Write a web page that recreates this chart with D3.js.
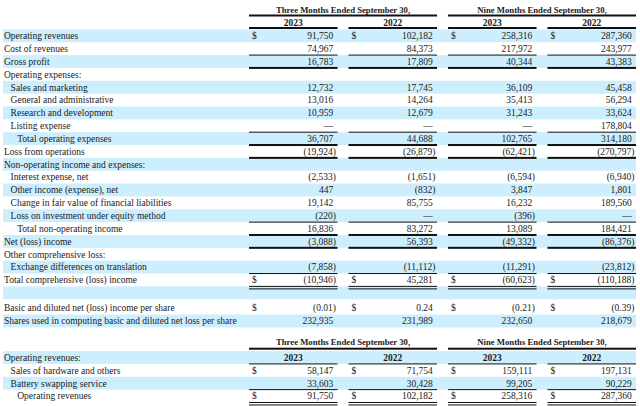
<!DOCTYPE html>
<html><head><meta charset="utf-8">
<script src="https://cdn.jsdelivr.net/npm/d3@7"></script>
<style>
html,body{margin:0;padding:0;background:#fff;}
svg text{font-family:"Liberation Serif","Times New Roman",serif;fill:#1a1a1a;}
</style></head>
<body><svg id="c" width="640" height="406"></svg>
<script>
// ---------- DATA ----------
const periodGroups = ["Three Months Ended September 30,", "Nine Months Ended September 30,"];
const columns = ["q3_2023", "q3_2022", "nine_2023", "nine_2022"];
const columnYears = ["2023", "2022", "2023", "2022"];

const labels = [
  "Operating revenues", "Cost of revenues", "Gross profit", "Operating expenses:",
  "Sales and marketing", "General and administrative", "Research and development", "Listing expense",
  "Total operating expenses", "Loss from operations", "Non-operating income and expenses:",
  "Interest expense, net", "Other income (expense), net", "Change in fair value of financial liabilities",
  "Loss on investment under equity method", "Total non-operating income", "Net (loss) income",
  "Other comprehensive loss:", "Exchange differences on translation", "Total comprehensive (loss) income",
  "", "Basic and diluted net (loss) income per share", "Shares used in computing basic and diluted net loss per share"
];
const levels = [0,0,0,0,1,1,1,1,2,0,0,1,1,1,1,2,0,0,1,0,0,0,0];
const q3_2023   = [91750, 74967, 16783, null, 12732, 13016, 10959, 0, 36707, -19924, null, -2533, 447, 19142, -220, 16836, -3088, null, -7858, -10946, null, -0.01, 232935];
const q3_2022   = [102182, 84373, 17809, null, 17745, 14264, 12679, 0, 44688, -26879, null, -1651, -832, 85755, 0, 83272, 56393, null, -11112, 45281, null, 0.24, 231989];
const nine_2023 = [258316, 217972, 40344, null, 36109, 35413, 31243, 0, 102765, -62421, null, -6594, 3847, 16232, -396, 13089, -49332, null, -11291, -60623, null, -0.21, 232650];
const nine_2022 = [287360, 243977, 43383, null, 45458, 56294, 33624, 178804, 314180, -270797, null, -6940, 1801, 189560, 0, 184421, -86376, null, -23812, -110188, null, -0.39, 218679];
const dollarRows = [0, 19, 21];
const perShareRows = [21];

const labels2 = ["Operating revenues:", "Sales of hardware and others", "Battery swapping service", "Operating revenues"];
const levels2 = [0, 1, 1, 2];
const seg_q3_2023   = [null, 58147, 33603, 91750];
const seg_q3_2022   = [null, 71754, 30428, 102182];
const seg_nine_2023 = [null, 159111, 99205, 258316];
const seg_nine_2022 = [null, 197131, 90229, 287360];
const dollarRows2 = [1, 3];

// ---------- RENDER ----------
const svg = d3.select("#c");
const HL = "#cdeefd";
const FS = 9.5;

const x = d3.scaleBand().domain(columns).range([249, 636]).paddingInner(0.11).paddingOuter(0);
const bw = x.bandwidth();
const rowH = 12.85;
const y1 = d3.scaleLinear().domain([0, 1]).range([35.8, 35.8 + rowH]);
const yRow = i => y1(i) + (i >= 21 ? 2.5 : 0);
const y2 = d3.scaleLinear().domain([0, 1]).range([357.5, 357.5 + rowH]);

const fInt = d3.format(",");
const fDec = d3.format(",.2f");

function fmtVal(v, dec) {
  if (v === null || v === undefined) return null;
  if (v === 0) return {t: "\u2014", neg: false, dash: true};
  const f = dec ? fDec : fInt;
  if (v < 0) return {t: "(" + f(-v) + ")", neg: true};
  return {t: f(v), neg: false};
}

function lineSeg(g, x0, x1, yy, type) {
  if (type === "thin") {
    g.append("rect").attr("x", x0).attr("y", yy - 0.5).attr("width", x1 - x0).attr("height", 1).attr("fill", "#111");
  } else if (type === "thick") {
    g.append("rect").attr("x", x0).attr("y", yy - 1).attr("width", x1 - x0).attr("height", 2).attr("fill", "#111");
  } else if (type === "double") {
    g.append("rect").attr("x", x0).attr("y", yy - 1.5).attr("width", x1 - x0).attr("height", 1).attr("fill", "#111");
    g.append("rect").attr("x", x0).attr("y", yy + 1).attr("width", x1 - x0).attr("height", 1).attr("fill", "#111");
  }
}

function drawTable(cfg) {
  const g = svg.append("g");
  const n = cfg.labels.length;
  for (let i = 0; i < n; i++) {
    if (cfg.hl(i)) {
      g.append("rect").attr("x", 3).attr("y", cfg.yc(i) - rowH / 2).attr("width", 633).attr("height", rowH).attr("fill", HL);
    }
  }
  for (let i = 0; i < n; i++) {
    if (!cfg.labels[i]) continue;
    g.append("text").attr("x", 4 + cfg.levels[i] * 6.6).attr("y", cfg.yc(i)).attr("dy", "0.35em")
      .attr("font-size", FS).text(cfg.labels[i]);
  }
  cfg.series.forEach((arr, ci) => {
    const col = columns[ci];
    const x0 = x(col), x1 = x0 + bw;
    arr.forEach((v, i) => {
      const f = fmtVal(v, cfg.perShare.includes(i));
      if (!f) return;
      const xr = f.neg ? x1 - 1.6 : x1 - 4.2;
      g.append("text").attr("x", xr).attr("y", cfg.yc(i)).attr("dy", "0.35em")
        .attr("text-anchor", "end").attr("font-size", FS).text(f.t);
      if (cfg.dollars.includes(i)) {
        g.append("text").attr("x", x0 + 3).attr("y", cfg.yc(i)).attr("dy", "0.35em")
          .attr("font-size", FS).text("$");
      }
    });
    Object.entries(cfg.rules).forEach(([ri, type]) => {
      lineSeg(g, x0, x1, cfg.yc(+ri) + rowH / 2 + (type === "double" ? 1 : 0), type);
    });
  });
  return g;
}

function drawHeader(groupY, lineY, yearY, yearLineY, yearLineType) {
  const g = svg.append("g");
  periodGroups.forEach((p, k) => {
    const a = x(columns[2 * k]), b = x(columns[2 * k + 1]) + bw;
    g.append("text").attr("x", (a + b) / 2).attr("y", groupY).attr("dy", "0.35em")
      .attr("text-anchor", "middle").attr("font-weight", "bold").attr("font-size", 8.7).text(p);
    lineSeg(g, a, b, lineY, "thick");
  });
  columns.forEach((c, ci) => {
    g.append("text").attr("x", x(c) + bw / 2).attr("y", yearY).attr("dy", "0.35em")
      .attr("text-anchor", "middle").attr("font-weight", "bold").attr("font-size", 9.5).text(columnYears[ci]);
    lineSeg(g, x(c), x(c) + bw, yearLineY, yearLineType);
  });
}

drawTable({
  labels, levels,
  series: [q3_2023, q3_2022, nine_2023, nine_2022],
  yc: yRow,
  hl: i => i % 2 === 0,
  dollars: dollarRows, perShare: perShareRows,
  rules: {1: "thin", 2: "thick", 7: "thin", 8: "thick", 9: "thick", 14: "thin", 15: "thick", 16: "thick", 18: "thin", 19: "double"}
});
drawHeader(9.5, 15.5, 22.5, 28, "thick");

drawTable({
  labels: labels2, levels: levels2,
  series: [seg_q3_2023, seg_q3_2022, seg_nine_2023, seg_nine_2022],
  yc: y2,
  hl: i => i % 2 === 0,
  dollars: dollarRows2, perShare: [],
  rules: {0: "thin", 2: "thin", 3: "double"}
});
drawHeader(342, 348.7, y2(0), 0, "none");
</script></body></html>
